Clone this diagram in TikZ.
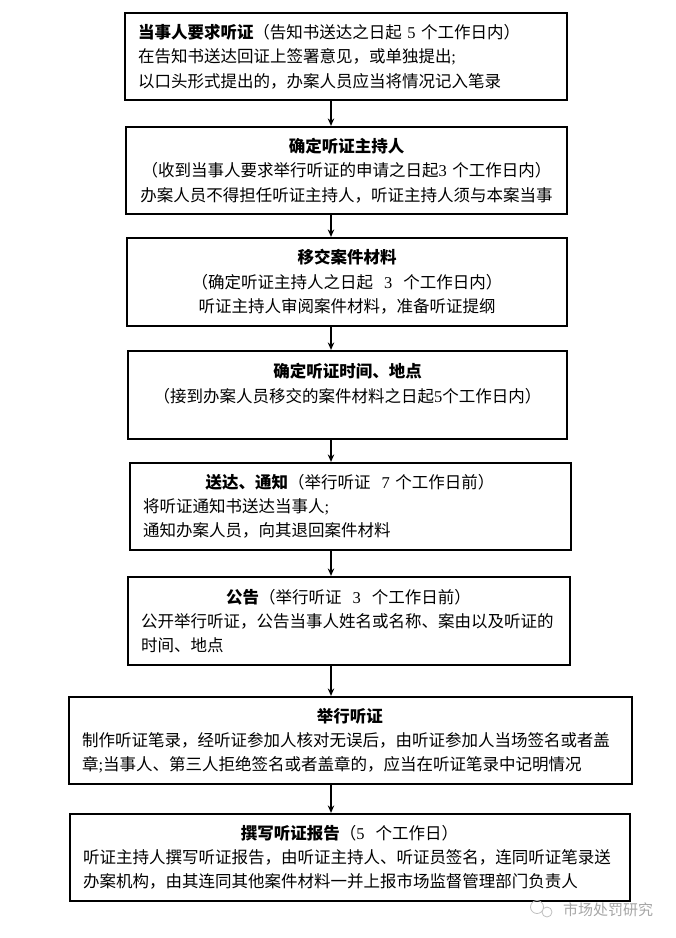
\documentclass[tikz,border=0pt]{standalone}
\usepackage{fontspec}
\setmainfont{Noto Sans CJK SC}
\newfontfamily\latinfont{Liberation Serif}
\usetikzlibrary{arrows.meta}
\newcommand\dg[1]{{\latinfont #1}}
\newcommand\headrow[1]{\makebox[\dimexpr\hsize-1pt\relax]{#1}}
\begin{document}
\begin{tikzpicture}[x=1pt,y=-1pt,
        every node/.style={rectangle,draw,line width=2.2pt,inner xsep=13pt,inner ysep=0pt,
            font=\fontsize{16.5}{24.3}\selectfont,minimum height=87pt,align=left},
        flow/.style={-{Stealth[length=7.5pt,width=6.5pt]},line width=1.5pt}]
            \useasboundingbox (0,0) rectangle (676,938);
            \node[text width=416pt] (A) at (346,56.5) {\textbf{当事人要求听证}（告知书送达之日起 \dg{5} 个工作日内）\\在告知书送达回证上签署意见，或单独提出\dg{;}\\以口头形式提出的，办案人员应当将情况记入笔录};
            \node[text width=415pt,align=center] (B) at (346.5,170.5) {\textbf{确定听证主持人}\\（收到当事人要求举行听证的申请之日起\dg{3} 个工作日内）\\办案人员不得担任听证主持人，听证主持人须与本案当事};
            \node[text width=414pt,align=center,minimum height=88pt] (C) at (347,282) {\textbf{移交案件材料}\\（确定听证主持人之日起 \ \dg{3} \ 个工作日内）\\听证主持人审阅案件材料，准备听证提纲};
            \node[text width=413pt,align=center,minimum height=88pt] (D) at (347.5,395) {\textbf{确定听证时间、地点}\\（接到办案人员移交的案件材料之日起\dg{5}个工作日内）\\\mbox{}};
            \node[text width=415pt] (E) at (350.5,506.5) {\headrow{\textbf{送达、通知}（举行听证 \ \dg{7} 个工作日前）}\\将听证通知书送达当事人\dg{;}\\通知办案人员，向其退回案件材料};
            \node[text width=416pt,minimum height=88pt] (F) at (349,621) {\headrow{\textbf{公告}（举行听证 \ \dg{3} \ 个工作日前）}\\公开举行听证，公告当事人姓名或名称、案由以及听证的\\时间、地点};
            \node[text width=537pt] (G) at (350.5,740.5) {\headrow{\textbf{举行听证}}\\制作听证笔录，经听证参加人核对无误后，由听证参加人当场签名或者盖\\章\dg{;}当事人、第三人拒绝签名或者盖章的，应当在听证笔录中记明情况};
            \node[text width=534pt] (H) at (350,857.5) {\headrow{\textbf{撰写听证报告}（\dg{5} \ 个工作日）}\\听证主持人撰写听证报告，由听证主持人、听证员签名，连同听证笔录送\\办案机构，由其连同其他案件材料一并上报市场监督管理部门负责人};
            \node[draw=none,minimum height=0pt,inner xsep=0pt,text=black!35,font=\fontsize{15}{15}\selectfont] (W) at (608,910) {市场处罚研究};
            \draw[black!25,line width=0.8pt] (537,907) circle (6.5pt) (547,912) circle (5pt);
            \coordinate (X) at (331,0);
            \path [flow] (A.south -| X) edge (B.north -| X);
            \path [flow] (B.south -| X) edge (C.north -| X);
            \path [flow] (C.south -| X) edge (D.north -| X);
            \path [flow] (D.south -| X) edge (E.north -| X);
            \path [flow] (E.south -| X) edge (F.north -| X);
            \path [flow] (F.south -| X) edge (G.north -| X);
            \path [flow] (G.south -| X) edge (H.north -| X);
        \end{tikzpicture}
\end{document}
